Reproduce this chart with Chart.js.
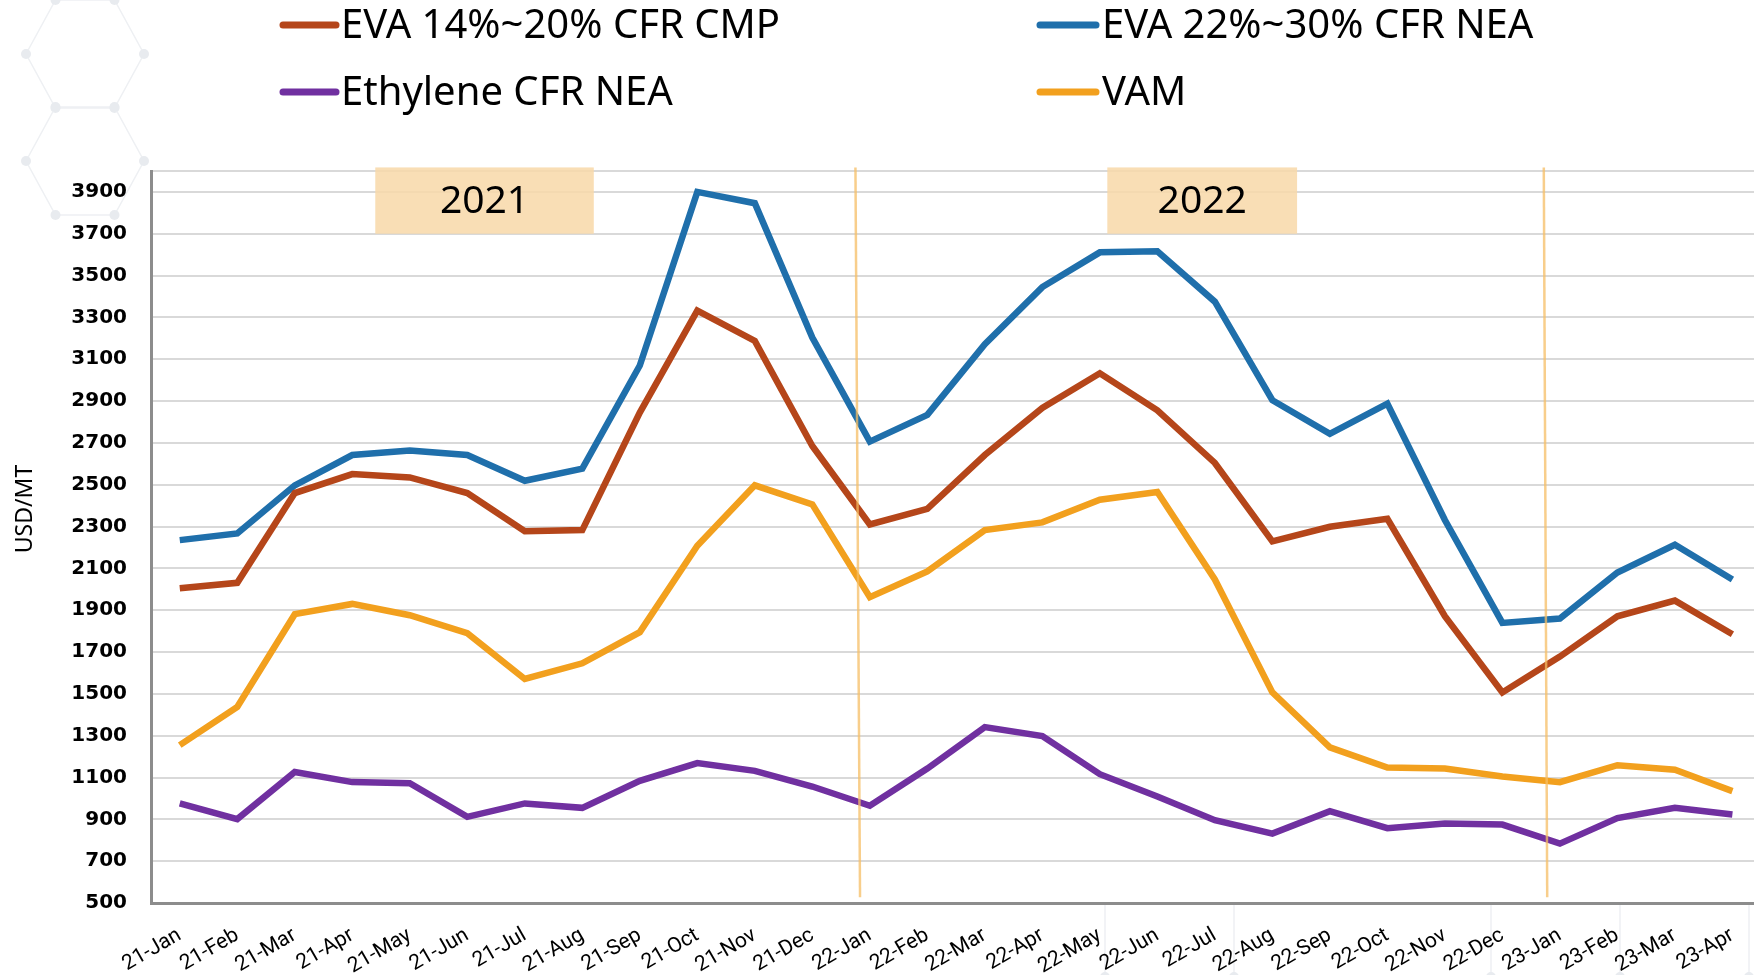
<!DOCTYPE html>
<html>
<head>
<meta charset="utf-8">
<script src="https://cdn.jsdelivr.net/npm/chart.js@4"></script>
<style>
  html, body { margin: 0; padding: 0; background: #fff; overflow: hidden; }
  #wrap { width: 1765px; height: 975px; }
</style>
</head>
<body>
<div id="wrap"><canvas id="myChart"></canvas></div>
<script>
// months on the x axis
let months = ["21-Jan","21-Feb","21-Mar","21-Apr","21-May","21-Jun","21-Jul","21-Aug","21-Sep","21-Oct","21-Nov","21-Dec",
  "22-Jan","22-Feb","22-Mar","22-Apr","22-May","22-Jun","22-Jul","22-Aug","22-Sep","22-Oct","22-Nov","22-Dec",
  "23-Jan","23-Feb","23-Mar","23-Apr"];

let eva1420 = [2005,2031,2460,2551,2535,2460,2278,2283,2845,3332,3188,2685,
  2310,2385,2642,2867,3033,2856,2604,2229,2299,2337,1871,1507,1678,1871,1946,1785];
let eva2230 = [2235,2267,2497,2642,2663,2642,2519,2577,3070,3900,3846,3204,
  2706,2834,3172,3445,3611,3616,3375,2904,2743,2888,2331,1839,1860,2080,2213,2047];
let ethylene = [976,901,1126,1078,1073,912,976,955,1084,1169,1132,1057,
  965,1143,1341,1298,1116,1009,896,832,939,858,880,875,784,906,955,923];
let vam = [1255,1437,1881,1930,1876,1790,1571,1646,1795,2208,2497,2406,
  1962,2085,2283,2320,2428,2465,2047,1507,1244,1148,1143,1105,1078,1159,1137,1035];

let seriesNames = ["EVA 14%~20% CFR CMP", "EVA 22%~30% CFR NEA", "Ethylene CFR NEA", "VAM"];
let seriesColors = ["#B5461A", "#1F6FAB", "#7030A0", "#F2A01E"];

// y tick labels
let yTicks = [500,700,900,1100,1300,1500,1700,1900,2100,2300,2500,2700,2900,3100,3300,3500,3700,3900];
let yMin = 500, yMax = 4000;

// year boxes and year dividers, in category index units
let yearLabels = ["2021", "2022"];
let yearBoxFrom = [3.4, 16.13];
let yearBoxTo = [7.2, 19.43];
let dividerTop = [11.75, 23.72];
let dividerBottom = [11.83, 23.78];

let FONT = "'Noto Sans', sans-serif";

function hexagon(ctx, cx, cy, rx, ry) {
  let pts = [[cx - rx, cy], [cx - rx / 2, cy - ry], [cx + rx / 2, cy - ry],
    [cx + rx, cy], [cx + rx / 2, cy + ry], [cx - rx / 2, cy + ry]];
  ctx.beginPath();
  pts.forEach((p, i) => i ? ctx.lineTo(p[0], p[1]) : ctx.moveTo(p[0], p[1]));
  ctx.closePath();
  ctx.stroke();
  pts.forEach(p => {
    ctx.beginPath();
    ctx.arc(p[0], p[1], 5, 0, Math.PI * 2);
    ctx.fill();
  });
}

let decorations = {
  id: "decorations",
  beforeDraw(chart) {
    let ctx = chart.ctx;
    ctx.save();
    ctx.strokeStyle = "#EEF0F3";
    ctx.fillStyle = "#E8EBEF";
    ctx.lineWidth = 1.5;
    hexagon(ctx, 85, 54, 59, 54);
    hexagon(ctx, 85, 161, 59, 54);
    // honeycomb peeking in at the bottom right
    [1105, 1234, 1491, 1620, 1749].forEach(px => {
      ctx.beginPath();
      ctx.moveTo(px, 905);
      ctx.lineTo(px, 978);
      ctx.moveTo(px, 978);
      ctx.lineTo(px - 40, 1000);
      ctx.moveTo(px, 978);
      ctx.lineTo(px + 40, 1000);
      ctx.stroke();
      ctx.beginPath();
      ctx.arc(px, 977, 5, 0, Math.PI * 2);
      ctx.fill();
    });
    ctx.restore();
  },
  beforeDatasetsDraw(chart) {
    let ctx = chart.ctx, x = chart.scales.x, y = chart.scales.y;
    ctx.save();
    for (let i = 0; i < yearLabels.length; i++) {
      let x1 = x.getPixelForValue(yearBoxFrom[i]);
      let x2 = x.getPixelForValue(yearBoxTo[i]);
      let y1 = y.getPixelForValue(4017);
      let y2 = y.getPixelForValue(3700);
      ctx.fillStyle = "rgba(248,216,168,0.85)";
      ctx.fillRect(x1, y1, x2 - x1, y2 - y1);
      ctx.fillStyle = "#000";
      ctx.font = "39px " + FONT;
      ctx.textAlign = "center";
      ctx.textBaseline = "middle";
      ctx.fillText(yearLabels[i], (x1 + x2) / 2, (y1 + y2) / 2 + 1);
    }
    ctx.restore();
  },
  afterDatasetsDraw(chart) {
    let ctx = chart.ctx, x = chart.scales.x, y = chart.scales.y;
    ctx.save();
    ctx.strokeStyle = "rgba(246,190,100,0.75)";
    ctx.lineWidth = 2.5;
    for (let i = 0; i < dividerTop.length; i++) {
      ctx.beginPath();
      ctx.moveTo(x.getPixelForValue(dividerTop[i]), y.getPixelForValue(4017));
      ctx.lineTo(x.getPixelForValue(dividerBottom[i]), y.getPixelForValue(527));
      ctx.stroke();
    }
    ctx.restore();
  },
  afterDraw(chart) {
    let ctx = chart.ctx;
    ctx.save();
    // y axis title
    ctx.translate(25, 509);
    ctx.rotate(-Math.PI / 2);
    ctx.font = "23px " + FONT;
    ctx.fillStyle = "#000";
    ctx.textAlign = "center";
    ctx.textBaseline = "middle";
    ctx.fillText("USD/MT", 0, 0);
    ctx.restore();

    // legend in two columns
    let colLine = [[283, 336], [1040, 1096]];
    let colText = [341, 1102];
    let rowY = [25, 92];
    ctx.save();
    ctx.font = "40px " + FONT;
    ctx.textBaseline = "middle";
    ctx.textAlign = "left";
    chart.data.datasets.forEach((ds, i) => {
      let c = i % 2, r = Math.floor(i / 2);
      ctx.strokeStyle = ds.borderColor;
      ctx.lineWidth = 7;
      ctx.lineCap = "round";
      ctx.beginPath();
      ctx.moveTo(colLine[c][0], rowY[r]);
      ctx.lineTo(colLine[c][1], rowY[r]);
      ctx.stroke();
      ctx.fillStyle = "#000";
      ctx.fillText(ds.label, colText[c], rowY[r] + 2);
    });
    ctx.restore();
  }
};

let datasets = [eva1420, eva2230, ethylene, vam].map((d, i) => ({
  label: seriesNames[i],
  data: d,
  borderColor: seriesColors[i],
  backgroundColor: seriesColors[i],
  borderWidth: 6.5,
  pointRadius: 0,
  tension: 0,
  fill: false
}));

new Chart("myChart", {
  type: "line",
  data: { labels: months, datasets: datasets },
  plugins: [decorations],
  options: {
    responsive: true,
    maintainAspectRatio: false,
    animation: false,
    layout: { padding: { top: 171, left: 0, right: 0, bottom: 0 } },
    plugins: {
      legend: { display: false },
      tooltip: { enabled: false }
    },
    scales: {
      x: {
        offset: true,
        grid: { display: false, drawTicks: false },
        border: { color: "#8C8C8C", width: 3 },
        ticks: {
          color: "#000",
          font: { family: "Roboto, sans-serif", size: 21 },
          minRotation: 30,
          maxRotation: 30,
          autoSkip: false,
          padding: 20
        },
        afterFit(scale) { scale.height = 72; }
      },
      y: {
        min: yMin,
        max: yMax,
        grid: { color: "#D9D9D9", lineWidth: 2, drawTicks: false },
        border: { color: "#8C8C8C", width: 3 },
        afterBuildTicks(scale) {
          scale.ticks = yTicks.concat([yMax]).map(v => ({ value: v }));
        },
        ticks: {
          autoSkip: false,
          color: "#000",
          padding: 24,
          font: { family: "'DejaVu Sans', sans-serif", size: 20, weight: "bold" },
          callback: v => v === yMax ? "" : v
        },
        afterFit(scale) { scale.width = 151; }
      }
    }
  }
});
</script>
</body>
</html>
